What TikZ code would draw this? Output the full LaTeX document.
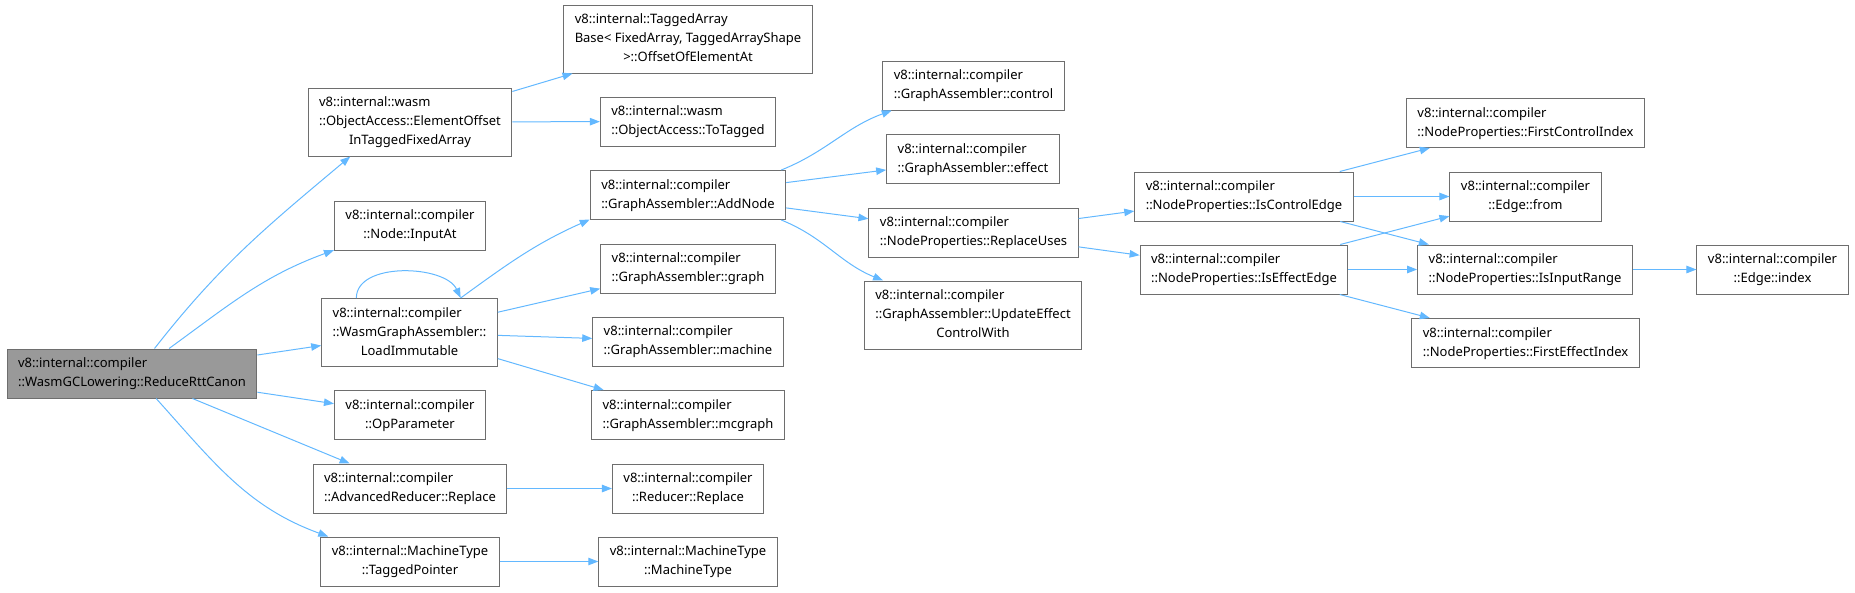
\documentclass[tikz,border=0pt]{standalone}
\usepackage{fontspec}
\setmainfont{Noto Sans}
\usepackage{xcolor}
\usepackage{tikz}
\usetikzlibrary{arrows.meta, positioning, calc}

\definecolor{edgeblue}{RGB}{99,184,255}
\definecolor{boxgray}{RGB}{110,110,110}
\definecolor{rootgray}{RGB}{153,153,153}

% all lines left, last line centred
\newcommand{\fn}[2]{\begin{tabular}{@{}l@{}}#1\\\multicolumn{1}{@{}c@{}}{#2}\end{tabular}}

\begin{document}
\begin{tikzpicture}[
    x=1pt, y=1pt,
    >={Triangle[length=10pt,width=7.5pt]},
    fnbox/.style={draw=boxgray, line width=1pt, fill=white, inner xsep=11pt, inner ysep=5.5pt,
                  font=\fontsize{13}{19}\selectfont},
    rootbox/.style={fnbox, fill=rootgray},
    call/.style={->, draw=edgeblue, line width=1pt}
]
\useasboundingbox (0,0) rectangle (1855,-592);

% Caller
\node[rootbox] (root) at (132,-373.5) {\fn{v8::internal::compiler}{::WasmGCLowering::ReduceRttCanon}};

% First level
\node[fnbox] (elemoff) at (410,-122) {\fn{v8::internal::wasm\\::ObjectAccess::ElementOffset}{InTaggedFixedArray}};
\node[fnbox] (inputat) at (410,-225.5) {\fn{v8::internal::compiler}{::Node::InputAt}};
\node[fnbox] (loadimm) at (409.5,-332.5) {\fn{v8::internal::compiler\\::WasmGraphAssembler::}{LoadImmutable}};
\node[fnbox] (opparam) at (410,-415) {\fn{v8::internal::compiler}{::OpParameter}};
\node[fnbox] (advrepl) at (410,-488.5) {\fn{v8::internal::compiler}{::AdvancedReducer::Replace}};
\node[fnbox] (tagptr) at (410,-561.5) {\fn{v8::internal::MachineType}{::TaggedPointer}};

% Second level
\node[fnbox] (tagged) at (688,-39) {\fn{v8::internal::TaggedArray\\Base< FixedArray, TaggedArrayShape}{>::OffsetOfElementAt}};
\node[fnbox] (totagged) at (688,-121.5) {\fn{v8::internal::wasm}{::ObjectAccess::ToTagged}};
\node[fnbox] (addnode) at (688,-195) {\fn{v8::internal::compiler}{::GraphAssembler::AddNode}};
\node[fnbox] (graph) at (688,-268.5) {\fn{v8::internal::compiler}{::GraphAssembler::graph}};
\node[fnbox] (machine) at (688,-341.5) {\fn{v8::internal::compiler}{::GraphAssembler::machine}};
\node[fnbox] (mcgraph) at (688,-415) {\fn{v8::internal::compiler}{::GraphAssembler::mcgraph}};
\node[fnbox] (redrepl) at (688,-488.5) {\fn{v8::internal::compiler}{::Reducer::Replace}};
\node[fnbox] (mtype) at (688,-561.5) {\fn{v8::internal::MachineType}{::MachineType}};

% Third level
\node[fnbox] (control) at (973.5,-85.5) {\fn{v8::internal::compiler}{::GraphAssembler::control}};
\node[fnbox] (effect) at (973,-159) {\fn{v8::internal::compiler}{::GraphAssembler::effect}};
\node[fnbox] (repluses) at (973.5,-232.5) {\fn{v8::internal::compiler}{::NodeProperties::ReplaceUses}};
\node[fnbox] (update) at (973,-315) {\fn{v8::internal::compiler\\::GraphAssembler::UpdateEffect}{ControlWith}};

% Fourth level
\node[fnbox] (isctrl) at (1244,-196.5) {\fn{v8::internal::compiler}{::NodeProperties::IsControlEdge}};
\node[fnbox] (iseff) at (1244,-269.5) {\fn{v8::internal::compiler}{::NodeProperties::IsEffectEdge}};

% Fifth level
\node[fnbox] (firstctrl) at (1525.5,-123) {\fn{v8::internal::compiler}{::NodeProperties::FirstControlIndex}};
\node[fnbox] (from) at (1525.5,-196.5) {\fn{v8::internal::compiler}{::Edge::from}};
\node[fnbox] (inrange) at (1525,-269.5) {\fn{v8::internal::compiler}{::NodeProperties::IsInputRange}};
\node[fnbox] (firsteff) at (1525.5,-343) {\fn{v8::internal::compiler}{::NodeProperties::FirstEffectIndex}};
\node[fnbox] (index) at (1772.5,-269.5) {\fn{v8::internal::compiler}{::Edge::index}};

% Calls from the caller
\draw[call] (root.48) to[out=52,in=220] (elemoff.210);
\draw[call] (root.34) to[out=36,in=200] (inputat.198);
\draw[call] (root) -- (loadimm);
\draw[call] (root) -- (opparam);
\draw[call] (root) -- (advrepl);
\draw[call] (root.-46) to[out=-48,in=160] (tagptr.163);

% Calls from the first level
\draw[call] (elemoff) -- (tagged);
\draw[call] (elemoff) -- (totagged);
\draw[call] (loadimm.147) to[out=90,in=115,looseness=0.9] (loadimm.34);
\draw[call] (loadimm.34) to[out=36,in=204] (addnode.194);
\draw[call] (loadimm) -- (graph);
\draw[call] (loadimm) -- (machine);
\draw[call] (loadimm) -- (mcgraph);
\draw[call] (advrepl) -- (redrepl);
\draw[call] (tagptr) -- (mtype);

% Calls from AddNode
\draw[call] (addnode.15) to[out=22,in=200] (control.197);
\draw[call] (addnode) -- (effect);
\draw[call] (addnode) -- (repluses);
\draw[call] (addnode.-15) to[out=-22,in=158] (update.159);

% Calls from ReplaceUses and below
\draw[call] (repluses) -- (isctrl);
\draw[call] (repluses) -- (iseff);
\draw[call] (isctrl) -- (firstctrl);
\draw[call] (isctrl) -- (from);
\draw[call] (isctrl) -- (inrange);
\draw[call] (iseff) -- (from);
\draw[call] (iseff) -- (inrange);
\draw[call] (iseff) -- (firsteff);
\draw[call] (inrange) -- (index);

\end{tikzpicture}
\end{document}
